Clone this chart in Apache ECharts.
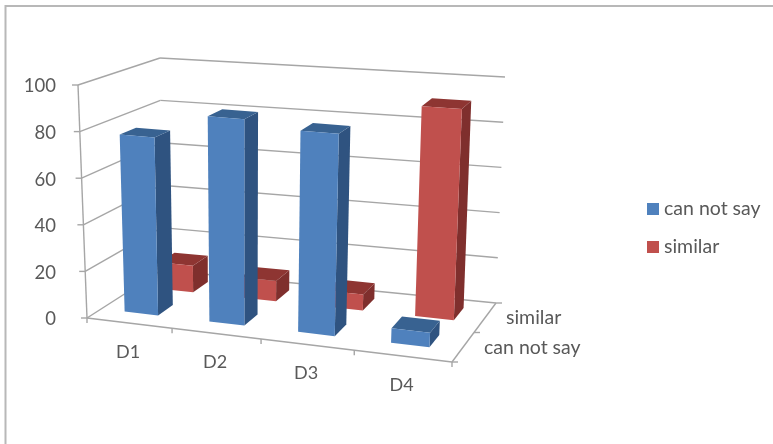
<!DOCTYPE html>
<html>
<head>
<meta charset="utf-8">
<style>
  html, body { margin: 0; padding: 0; background: #fff; overflow: hidden; }
  #chart { width: 773px; height: 444px; }
</style>
<script src="https://cdn.jsdelivr.net/npm/echarts@6/dist/echarts.min.js"></script>
</head>
<body>
<div id="chart"></div>
<script>
const categories = ['D1', 'D2', 'D3', 'D4'];
const depthLabels = ['can not say', 'similar'];
const canNotSay = [77, 88, 85, 6];
const similar = [12, 9, 7, 91];
const yTicks = [0, 20, 40, 60, 80, 100];

const FONT = 'Lato, "Open Sans", sans-serif';
const TEXT_COLOR = '#595959';
const LINE_COLOR = '#a6a6a6';

// 3D box corners on screen: [x, depth, height]
const box = {
  '000': [87, 318], '100': [452, 362], '010': [162, 270], '110': [496, 303],
  '001': [78, 85], '101': [464, 115], '011': [160, 58], '111': [505, 77]
};
// right side of the box is nearer the camera, so ticks get wider along x
const PERSPECTIVE = 1.097;

function project(u, w, h) {
  const uu = u / (u + PERSPECTIVE * (1 - u));
  const out = [0, 0];
  for (let k = 0; k < 2; k++) {
    const front = (box['000'][k] * (1 - uu) + box['100'][k] * uu) * (1 - h) + (box['001'][k] * (1 - uu) + box['101'][k] * uu) * h;
    const back = (box['010'][k] * (1 - uu) + box['110'][k] * uu) * (1 - h) + (box['011'][k] * (1 - uu) + box['111'][k] * uu) * h;
    out[k] = front * (1 - w) + back * w;
  }
  return out;
}

function barRenderer(w0, w1, halfWidth, shift, colors) {
  return function (params, api) {
    const g = params.coordSys;
    const c = api.coord([api.value(0), api.value(1)]);
    const band = api.size([1, 0])[0] / g.width;
    const center = (c[0] - g.x) / g.width + shift;
    const u0 = center - band * halfWidth, u1 = center + band * halfWidth;
    const h = (g.y + g.height - c[1]) / g.height;
    const poly = (pts, fill) => ({ type: 'polygon', shape: { points: pts }, style: { fill: fill } });
    return {
      type: 'group',
      children: [
        poly([project(u1, w0, 0), project(u1, w1, 0), project(u1, w1, h), project(u1, w0, h)], colors.side),
        poly([project(u0, w0, h), project(u1, w0, h), project(u1, w1, h), project(u0, w1, h)], colors.top),
        poly([project(u0, w0, 0), project(u1, w0, 0), project(u1, w0, h), project(u0, w0, h)], colors.front)
      ]
    };
  };
}

function line(a, b) {
  return { type: 'line', shape: { x1: a[0], y1: a[1], x2: b[0], y2: b[1] }, style: { stroke: LINE_COLOR, lineWidth: 1.4 } };
}

function renderWall(params, api) {
  const g = params.coordSys;
  const h = (g.y + g.height - api.coord([0, api.value(0)])[1]) / g.height;
  const front = project(0, 0, h), back = project(0, 1, h), right = project(1, 1, h);
  return {
    type: 'group',
    children: [
      line(front, back),
      line(back, right),
      line(front, [front[0] - 6, front[1]])
    ]
  };
}

// floor edges, axis line and the ticks along them
function renderEdges(params, api) {
  const children = [
    line(project(0, 0, 0), project(0, 0, 1)),
    line(project(0, 0, 0), project(1, 0, 0)),
    line(project(1, 0, 0), project(1, 1, 0))
  ];
  for (let i = 0; i <= categories.length; i++) {
    const p = project(i / categories.length, 0, 0);
    children.push(line(p, [p[0], p[1] + 5]));
  }
  for (let i = 0; i <= depthLabels.length; i++) {
    const p = project(1, i / depthLabels.length, 0);
    children.push(line(p, [p[0] + 6, p[1]]));
  }
  return { type: 'group', children: children };
}

function textEl(p, text, align, size) {
  return {
    type: 'text',
    x: p[0], y: p[1],
    style: { text: text, fill: TEXT_COLOR, font: size + 'px ' + FONT, align: align, verticalAlign: 'middle' }
  };
}

function renderCategoryLabel(params, api) {
  const g = params.coordSys;
  const u = (api.coord([api.value(0), 0])[0] - g.x) / g.width;
  const p = project(u, 0, 0);
  return textEl([p[0] - 1, p[1] + 29], categories[api.value(0)], 'center', 18);
}

function renderDepthLabel(params, api) {
  const p = project(1, (api.value(0) + 0.5) / depthLabels.length, 0);
  return textEl([p[0] + 21, p[1]], depthLabels[api.value(0)], 'left', 19.5);
}

const chart = echarts.init(document.getElementById('chart'));
chart.setOption({
  animation: false,
  backgroundColor: '#fff',
  graphic: [{
    type: 'rect',
    shape: { x: 5.5, y: 6, width: 900, height: 600 },
    style: { fill: 'none', stroke: '#b8b8b8', lineWidth: 2 },
    silent: true
  }],
  legend: {
    data: ['can not say', 'similar'],
    orient: 'vertical',
    left: 642,
    top: 194,
    icon: 'rect',
    itemWidth: 12,
    itemHeight: 12,
    itemGap: 18,
    itemStyle: { borderWidth: 0 },
    textStyle: { color: TEXT_COLOR, fontFamily: FONT, fontSize: 19.5 }
  },
  grid: { left: 66, top: 86.5, width: 400, height: 233 },
  xAxis: { type: 'category', data: categories, show: false },
  yAxis: {
    type: 'value', min: 0, max: 100, interval: 20,
    axisLine: { show: false },
    axisTick: { show: false },
    splitLine: { show: false },
    axisLabel: { color: TEXT_COLOR, fontFamily: FONT, fontSize: 18.5, margin: 10 }
  },
  series: [
    { type: 'custom', name: 'wall', z: 1, silent: true, renderItem: renderWall, data: yTicks.map(v => [v]), encode: { x: -1, y: 0 } },
    { type: 'custom', name: 'edges', z: 1, silent: true, renderItem: renderEdges, data: [[0]] },
    { type: 'custom', name: 'catLabels', z: 1, silent: true, renderItem: renderCategoryLabel, data: categories.map((c, i) => [i]) },
    { type: 'custom', name: 'depthLabels', z: 1, silent: true, renderItem: renderDepthLabel, data: depthLabels.map((c, i) => [i]) },
    {
      type: 'custom', name: 'similar', z: 2,
      itemStyle: { color: '#C0504D' },
      renderItem: barRenderer(0.66, 0.87, 0.21, 0, { front: '#C0504D', side: '#7F2F2D', top: '#8E3532' }),
      data: categories.map((c, i) => [i, similar[i]]),
      encode: { x: 0, y: 1 }
    },
    {
      type: 'custom', name: 'can not say', z: 3,
      itemStyle: { color: '#4F81BD' },
      renderItem: barRenderer(0.19, 0.4, 0.2, -0.004, { front: '#4F81BD', side: '#2F5380', top: '#386291' }),
      data: categories.map((c, i) => [i, canNotSay[i]]),
      encode: { x: 0, y: 1 }
    }
  ]
});
</script>
</body>
</html>
